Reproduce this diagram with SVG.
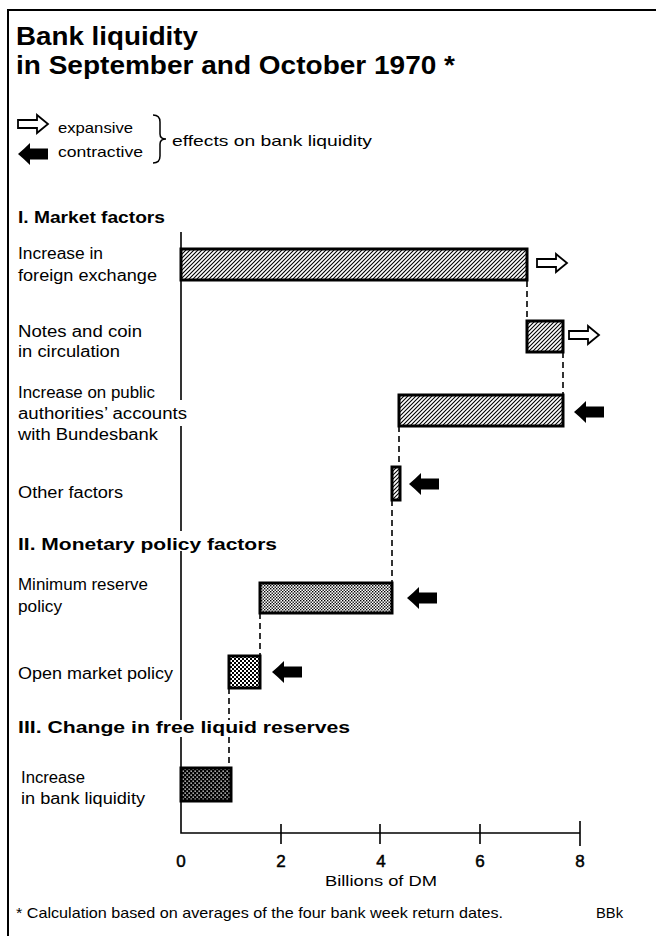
<svg xmlns="http://www.w3.org/2000/svg" width="656" height="936" viewBox="0 0 656 936">
<style>
.t{font-family:"Liberation Sans",Arial,sans-serif;font-size:16px;fill:#000}
.b{font-weight:bold}
.ttl{font-family:"Liberation Sans",Arial,sans-serif;font-size:25px;font-weight:bold;fill:#000}
.lg{font-family:"Liberation Sans",Arial,sans-serif;font-size:15px;fill:#000}
.num{font-family:"Liberation Sans",Arial,sans-serif;font-size:17px;fill:#000;stroke:#000;stroke-width:0.5;text-anchor:middle}
.bar{stroke:#000;stroke-width:3}
.dash{stroke:#000;stroke-width:1.6;stroke-dasharray:6 4;fill:none}
.ax{stroke:#000;stroke-width:1.6;fill:none}
.exp{fill:#fff;stroke:#000;stroke-width:1.8;stroke-linejoin:miter}
.con{fill:#000}
</style>
<defs>
<pattern id="hatch" width="4" height="4" patternUnits="userSpaceOnUse">
<rect width="4" height="4" fill="#fff"/>
<path d="M-1,1 L1,-1 M0,4 L4,0 M3,5 L5,3" stroke="#000" stroke-width="1.1"/>
</pattern>
<pattern id="fine" width="3" height="3" patternUnits="userSpaceOnUse">
<rect width="3" height="3" fill="#fff"/>
<rect width="1.4" height="1.4" fill="#000"/>
<rect x="1.5" y="1.5" width="1.4" height="1.4" fill="#000"/>
</pattern>
<pattern id="coarse" width="4" height="4" patternUnits="userSpaceOnUse">
<rect width="4" height="4" fill="#fff"/>
<rect width="2" height="2" fill="#000"/>
<rect x="2" y="2" width="2" height="2" fill="#000"/>
</pattern>
<pattern id="dark" width="4" height="4" patternUnits="userSpaceOnUse">
<rect width="4" height="4" fill="#000"/>
<rect x="0.5" y="0.5" width="1.3" height="1.3" fill="#fff"/>
<rect x="2.5" y="2.5" width="1.3" height="1.3" fill="#fff"/>
</pattern>
<path id="expArrow" class="exp" d="M0,-4 H19 V-9 L30,0 L19,9 V4 H0 Z"/>
<path id="conArrow" class="con" d="M0,0 Q6,-5 12,-11 V-5.5 H30 V5.5 H12 V11 Q6,5 0,0 Z"/>
</defs>

<g id="frame">
<path d="M8,936 V10 H656" fill="none" stroke="#000" stroke-width="2"/>
</g>

<g id="title">
<text class="ttl" x="16" y="45" textLength="182" lengthAdjust="spacingAndGlyphs">Bank liquidity</text>
<text class="ttl" x="16" y="74" textLength="439" lengthAdjust="spacingAndGlyphs">in September and October 1970 *</text>
</g>

<g id="legend">
<use href="#expArrow" x="18" y="124"/>
<use href="#conArrow" x="18" y="154"/>
<text class="lg" x="58" y="133" textLength="75" lengthAdjust="spacingAndGlyphs">expansive</text>
<text class="lg" x="58" y="157" textLength="85" lengthAdjust="spacingAndGlyphs">contractive</text>
<path d="M153,115 Q160,115 160,122 V134 Q160,139 166,139 Q160,139 160,144 V156 Q160,163 153,163" fill="none" stroke="#000" stroke-width="1.5"/>
<text class="lg" x="172" y="146" textLength="200" lengthAdjust="spacingAndGlyphs">effects on bank liquidity</text>
</g>

<g id="labels">
<text class="t b" x="18" y="223" textLength="147" lengthAdjust="spacingAndGlyphs">I. Market factors</text>
<text class="t b" x="18" y="550" textLength="259" lengthAdjust="spacingAndGlyphs">II. Monetary policy factors</text>
<text class="t b" x="18" y="733" textLength="332" lengthAdjust="spacingAndGlyphs">III. Change in free liquid reserves</text>
</g>

<g id="axis">
<path class="ax" d="M181,232 V400 M181,426 V531 M181,551 V720 M181,737 V833 H580"/>
<path class="ax" d="M281,824 V844 M380,824 V844 M480,824 V844 M580,821 V846"/>
<text class="num" x="181" y="867">0</text>
<text class="num" x="281" y="867">2</text>
<text class="num" x="381" y="867">4</text>
<text class="num" x="480" y="867">6</text>
<text class="num" x="580" y="867">8</text>
<text class="lg" x="325" y="886" textLength="112" lengthAdjust="spacingAndGlyphs">Billions of DM</text>
</g>

<g id="connectors">
<path class="dash" d="M527,281 V321"/>
<path class="dash" d="M563,352 V395"/>
<path class="dash" d="M399,426 V467"/>
<path class="dash" d="M392,500 V583"/>
<path class="dash" d="M260,613 V656"/>
<path class="dash" d="M229,688 V720 M229,737 V768"/>
</g>

<g id="foreign-exchange">
<text class="t" x="18" y="259" textLength="85" lengthAdjust="spacingAndGlyphs">Increase in</text>
<text class="t" x="18" y="281" textLength="139" lengthAdjust="spacingAndGlyphs">foreign exchange</text>
<rect class="bar" x="181" y="249" width="346" height="31" fill="url(#hatch)"/>
<use href="#expArrow" x="537" y="263"/>
</g>

<g id="notes-coin">
<text class="t" x="18" y="337" textLength="124" lengthAdjust="spacingAndGlyphs">Notes and coin</text>
<text class="t" x="18" y="357" textLength="102" lengthAdjust="spacingAndGlyphs">in circulation</text>
<rect class="bar" x="527" y="321" width="36" height="31" fill="url(#hatch)"/>
<use href="#expArrow" x="569" y="335"/>
</g>

<g id="public-accounts">
<text class="t" x="18" y="398" textLength="137" lengthAdjust="spacingAndGlyphs">Increase on public</text>
<text class="t" x="18" y="419" textLength="169" lengthAdjust="spacingAndGlyphs">authorities’ accounts</text>
<text class="t" x="18" y="440" textLength="140" lengthAdjust="spacingAndGlyphs">with Bundesbank</text>
<rect class="bar" x="399" y="395" width="164" height="31" fill="url(#hatch)"/>
<use href="#conArrow" x="574" y="412"/>
</g>

<g id="other-factors">
<text class="t" x="18" y="498" textLength="105" lengthAdjust="spacingAndGlyphs">Other factors</text>
<rect class="bar" x="392" y="467" width="8" height="33" fill="url(#hatch)"/>
<use href="#conArrow" x="409" y="484"/>
</g>

<g id="minimum-reserve">
<text class="t" x="18" y="590" textLength="130" lengthAdjust="spacingAndGlyphs">Minimum reserve</text>
<text class="t" x="18" y="612" textLength="44" lengthAdjust="spacingAndGlyphs">policy</text>
<rect class="bar" x="260" y="583" width="132" height="30" fill="url(#fine)"/>
<use href="#conArrow" x="407" y="598"/>
</g>

<g id="open-market">
<text class="t" x="18" y="679" textLength="155" lengthAdjust="spacingAndGlyphs">Open market policy</text>
<rect class="bar" x="229" y="656" width="31" height="32" fill="url(#coarse)"/>
<use href="#conArrow" x="272" y="672"/>
</g>

<g id="bank-liquidity">
<text class="t" x="21" y="783" textLength="64" lengthAdjust="spacingAndGlyphs">Increase</text>
<text class="t" x="21" y="804" textLength="124" lengthAdjust="spacingAndGlyphs">in bank liquidity</text>
<rect class="bar" x="181" y="768" width="50" height="33" fill="url(#dark)"/>
</g>

<g id="footnote">
<text class="lg" x="16" y="918" textLength="487" lengthAdjust="spacingAndGlyphs">* Calculation based on averages of the four bank week return dates.</text>
<text class="lg" x="596" y="918" textLength="27" lengthAdjust="spacingAndGlyphs">BBk</text>
</g>
</svg>
